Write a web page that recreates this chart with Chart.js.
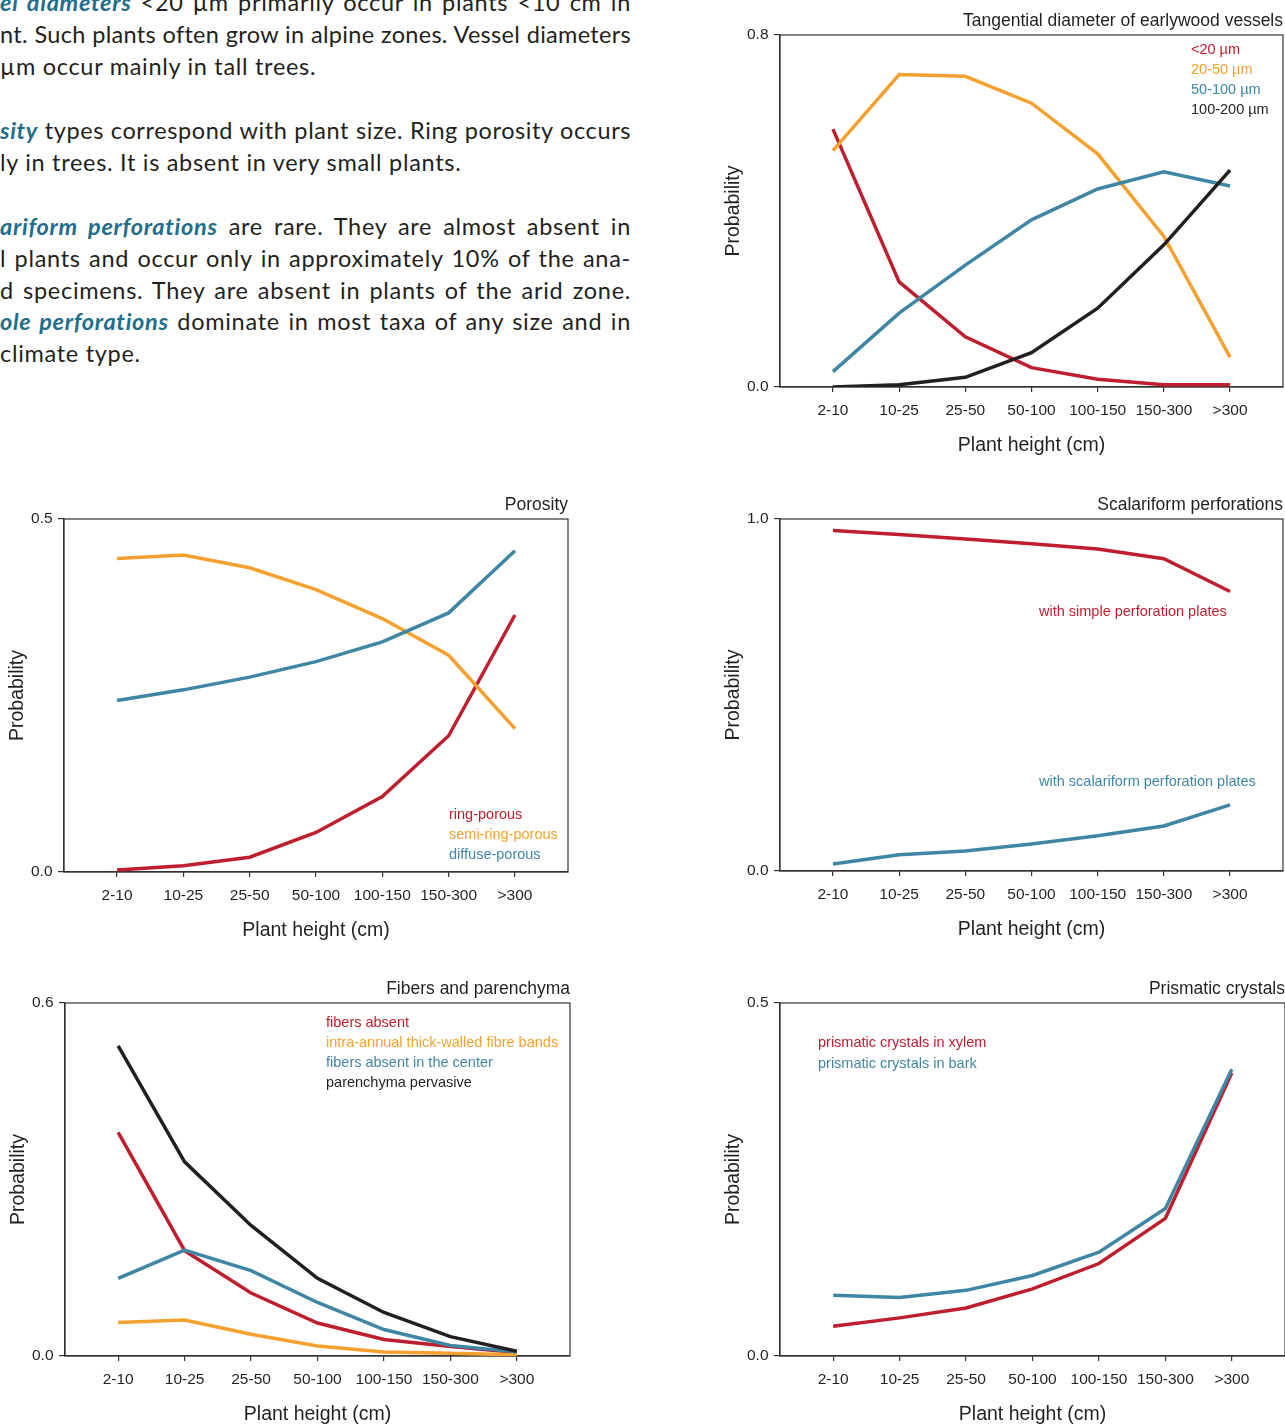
<!DOCTYPE html>
<html><head><meta charset="utf-8">
<script src="https://cdn.jsdelivr.net/npm/chart.js@4.4.1/dist/chart.umd.min.js"></script>
<style>
html,body{margin:0;padding:0;background:#fff;}
body{width:1285px;height:1425px;position:relative;overflow:hidden;}
canvas{position:absolute;}
.ln{position:absolute;left:0;width:631px;height:32px;line-height:32px;font-family:Lato,'Open Sans',sans-serif;font-size:23.5px;letter-spacing:0.7px;color:#231f20;white-space:nowrap;overflow:visible;}
.j{text-align:justify;text-align-last:justify;}
.k{color:#1f6e8c;font-weight:bold;font-style:italic;}
</style></head><body>
<div class="ln j" style="top:-14px"><span class="k">el diameters</span> &lt;20 µm primarily occur in plants &lt;10 cm in</div>
<div class="ln j" style="top:18px;letter-spacing:0.3px">nt. Such plants often grow in alpine zones. Vessel diameters</div>
<div class="ln" style="top:50px">µm occur mainly in tall trees.</div>
<div class="ln j" style="top:114px;letter-spacing:0.6px"><span class="k">sity</span> types correspond with plant size. Ring porosity occurs</div>
<div class="ln" style="top:146px">ly in trees. It is absent in very small plants.</div>
<div class="ln j" style="top:210px"><span class="k">ariform perforations</span> are rare. They are almost absent in</div>
<div class="ln j" style="top:242px">l plants and occur only in approximately 10% of the ana-</div>
<div class="ln j" style="top:274px">d specimens. They are absent in plants of the arid zone.</div>
<div class="ln j" style="top:305px"><span class="k">ole perforations</span> dominate in most taxa of any size and in</div>
<div class="ln" style="top:337px">climate type.</div>
<script>
// ---- data ----
const heightClasses = ['2-10','10-25','25-50','50-100','100-150','150-300','>300'];

const vesselTitle = 'Tangential diameter of earlywood vessels';
const vesselLabels = ['<20 µm','20-50 µm','50-100 µm','100-200 µm'];
const vesselLt20    = [0.586,0.239,0.114,0.044,0.0175,0.005,0.005];
const vessel20to50  = [0.537,0.710,0.706,0.645,0.530,0.342,0.068];
const vessel50to100 = [0.035,0.168,0.277,0.380,0.450,0.489,0.457];
const vessel100to200= [0.000,0.005,0.022,0.078,0.179,0.323,0.493];

const porosityTitle = 'Porosity';
const porosityLabels = ['ring-porous','semi-ring-porous','diffuse-porous'];
const ringPorous     = [0.003,0.009,0.021,0.056,0.107,0.193,0.364];
const semiRingPorous = [0.444,0.449,0.431,0.400,0.359,0.307,0.203];
const diffusePorous  = [0.243,0.258,0.276,0.298,0.326,0.367,0.455];

const perfTitle = 'Scalariform perforations';
const perfLabels = ['with simple perforation plates','with scalariform perforation plates'];
const simplePlates      = [0.967,0.956,0.943,0.930,0.915,0.887,0.794];
const scalariformPlates = [0.020,0.046,0.057,0.077,0.100,0.128,0.188];

const fiberTitle = 'Fibers and parenchyma';
const fiberLabels = ['fibers absent','intra-annual thick-walled fibre bands','fibers absent in the center','parenchyma pervasive'];
const fibersAbsent       = [0.380,0.179,0.107,0.056,0.028,0.016,0.006];
const fibreBands         = [0.057,0.061,0.037,0.017,0.007,0.0045,0.002];
const fibersAbsentCenter = [0.132,0.180,0.145,0.091,0.045,0.018,0.007];
const parenchymaPervasive= [0.527,0.330,0.222,0.132,0.074,0.033,0.008];

const crystalTitle = 'Prismatic crystals';
const crystalLabels = ['prismatic crystals in xylem','prismatic crystals in bark'];
const crystalsXylem = [0.042,0.054,0.068,0.095,0.131,0.195,0.401];
const crystalsBark  = [0.086,0.083,0.093,0.114,0.147,0.209,0.406];

const yMaxVessel = 0.8, yMaxPorosity = 0.5, yMaxPerf = 1.0, yMaxFiber = 0.6, yMaxCrystal = 0.5;

// ---- style ----
const RED = '#be1e2d', ORANGE = '#f4a12f', BLUE = '#3f86a4', BLACK = '#231f20';
const INK = '#231f20', FRAME = '#333333';
const FONT = "'Liberation Sans', Arial, Helvetica, sans-serif";

const framePlugin = {
  id: 'frame',
  beforeDatasetsDraw(chart) {
    const {ctx, chartArea: a} = chart;
    ctx.save();
    ctx.strokeStyle = FRAME; ctx.lineWidth = 1.2;
    ctx.strokeRect(a.left, a.top, a.right - a.left, a.bottom - a.top);
    ctx.restore();
  }
};
const textLegendPlugin = {
  id: 'textLegend',
  afterDraw(chart, args, opts) {
    const {ctx, chartArea: a} = chart;
    ctx.save();
    ctx.font = `${opts.size || 14.5}px ${FONT}`;
    ctx.textBaseline = 'middle'; ctx.textAlign = 'left';
    chart.data.datasets.forEach((ds, i) => {
      const y = a.top + (opts.ys ? opts.ys[i] : opts.dy + i * opts.gap);
      ctx.fillStyle = ds.borderColor;
      ctx.fillText(ds.label, a.left + opts.dx, y);
    });
    ctx.restore();
  }
};

function makeChart(box, yMax, titleText, series, legendCfg) {
  const yW = 64, topH = 35, botH = 73;
  const c = document.createElement('canvas');
  const w = box.r - box.l + yW + 1, h = box.b - box.t + topH + botH;
  c.width = w; c.height = h;
  c.style.left = (box.l - yW) + 'px'; c.style.top = (box.t - topH) + 'px';
  c.style.width = w + 'px'; c.style.height = h + 'px';
  document.body.appendChild(c);
  new Chart(c, {
    type: 'line',
    data: {
      datasets: series.map((s, i) => ({
        label: s.label,
        data: s.values.map((v, j) => ({x: j, y: v})),
        borderColor: s.color, backgroundColor: s.color,
        borderWidth: 3.5, pointRadius: 0, tension: 0, fill: false,
        order: series.length - i
      }))
    },
    options: {
      responsive: false, animation: false, devicePixelRatio: 1,
      layout: {padding: {left: 0, right: 1, top: 0, bottom: 0}},
      plugins: {
        legend: {display: false}, tooltip: {enabled: false},
        title: {display: true, text: titleText, align: 'end', color: INK,
                font: {family: FONT, size: 17.5, weight: 'normal'}, padding: {top: 11, bottom: 3}},
        textLegend: legendCfg
      },
      scales: {
        x: {
          type: 'linear', min: -0.8, max: 6.8,
          afterBuildTicks: s => { s.ticks = heightClasses.map((_, i) => ({value: i})); },
          afterFit: s => { s.height = botH; },
          ticks: {callback: v => heightClasses[v], autoSkip: false, maxRotation: 0, minRotation: 0,
                  padding: 9.5, color: INK, font: {family: FONT, size: 15.5}},
          grid: {display: true, drawOnChartArea: false, drawTicks: true, tickLength: 5, color: FRAME, lineWidth: 1.2},
          border: {display: true, color: FRAME, width: 1.2},
          title: {display: true, text: 'Plant height (cm)', color: INK,
                  font: {family: FONT, size: 19.5}, padding: {top: 0, bottom: 2.5}}
        },
        y: {
          min: 0, max: yMax,
          afterBuildTicks: s => { s.ticks = [{value: 0}, {value: yMax}]; },
          afterFit: s => { s.width = yW; },
          ticks: {callback: v => Number(v).toFixed(1), padding: 5.5, color: INK, font: {family: FONT, size: 15.5}},
          grid: {display: true, drawOnChartArea: false, drawTicks: true, tickLength: 6, color: FRAME, lineWidth: 1.2},
          border: {display: true, color: FRAME, width: 1.2},
          title: {display: true, text: 'Probability', color: INK,
                  font: {family: FONT, size: 19.5}, padding: {top: 5.8, bottom: 0}}
        }
      }
    },
    plugins: [framePlugin, textLegendPlugin]
  });
}

makeChart({l: 780, r: 1283, t: 35, b: 387}, yMaxVessel, vesselTitle, [
  {label: vesselLabels[0], values: vesselLt20, color: RED},
  {label: vesselLabels[1], values: vessel20to50, color: ORANGE},
  {label: vesselLabels[2], values: vessel50to100, color: BLUE},
  {label: vesselLabels[3], values: vessel100to200, color: BLACK}
], {dx: 411, dy: 15, gap: 20});

makeChart({l: 64, r: 568, t: 519, b: 872}, yMaxPorosity, porosityTitle, [
  {label: porosityLabels[0], values: ringPorous, color: RED},
  {label: porosityLabels[1], values: semiRingPorous, color: ORANGE},
  {label: porosityLabels[2], values: diffusePorous, color: BLUE}
], {dx: 385, dy: 296, gap: 20});

makeChart({l: 780, r: 1283, t: 519, b: 871}, yMaxPerf, perfTitle, [
  {label: perfLabels[0], values: simplePlates, color: RED},
  {label: perfLabels[1], values: scalariformPlates, color: BLUE}
], {dx: 259, ys: [93, 263]});

makeChart({l: 65, r: 570, t: 1003, b: 1356}, yMaxFiber, fiberTitle, [
  {label: fiberLabels[0], values: fibersAbsent, color: RED},
  {label: fiberLabels[1], values: fibreBands, color: ORANGE},
  {label: fiberLabels[2], values: fibersAbsentCenter, color: BLUE},
  {label: fiberLabels[3], values: parenchymaPervasive, color: BLACK}
], {dx: 261, dy: 20, gap: 20});

makeChart({l: 780, r: 1285, t: 1003, b: 1356}, yMaxCrystal, crystalTitle, [
  {label: crystalLabels[0], values: crystalsXylem, color: RED},
  {label: crystalLabels[1], values: crystalsBark, color: BLUE}
], {dx: 38, dy: 40, gap: 21});
</script>
</body></html>
